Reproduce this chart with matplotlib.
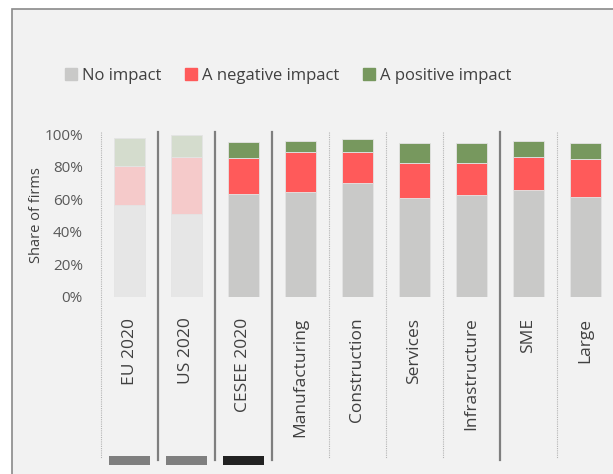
import numpy as np
import matplotlib
matplotlib.use("Agg")
import matplotlib.pyplot as plt
from matplotlib.patches import Rectangle, Patch

plt.rcParams['font.family'] = ['Open Sans', 'DejaVu Sans']

# Survey shares (% of firms)
categories = ["EU 2020", "US 2020", "CESEE 2020", "Manufacturing", "Construction",
              "Services", "Infrastructure", "SME", "Large"]
no_impact = [56.5, 51.0, 63.3, 64.3, 70.0, 60.5, 62.7, 65.6, 61.5]
negative = [23.8, 35.0, 22.1, 24.4, 18.7, 21.5, 19.5, 20.1, 23.1]
positive = [17.2, 13.4, 9.6, 6.8, 8.0, 12.5, 12.5, 9.8, 10.1]

# benchmarks are drawn faded
faded = [True, True, False, False, False, False, False, False, False]

# group separators: (position between bars, solid?)
separators = [(-0.5, False), (0.5, True), (1.5, True), (2.5, True), (3.5, False),
              (4.5, False), (5.5, False), (6.5, True), (7.5, False)]

# markers under the first three bars
marker_colors = ["#7f7f7f", "#7f7f7f", "#222222"]

C_NO, C_NEG, C_POS = "#c9c9c8", "#ff5a5a", "#77985e"
C_NO_F, C_NEG_F, C_POS_F = "#e6e6e6", "#f5caca", "#d4dccd"

fig = plt.figure(figsize=(6.13, 4.74), dpi=100)
fig.patch.set_facecolor("white")

# framed panel background
fig.patches.append(Rectangle((11.5 / 613, -0.1), 1.2, 1 - 9.5 / 474 + 0.1,
                             transform=fig.transFigure, facecolor="#f2f2f2",
                             edgecolor="#8a8a8a", linewidth=1.2, zorder=-5))

ax = fig.add_axes([101 / 613, (474 - 296.7) / 474, 513 / 613, 162.7 / 474])
ax.set_facecolor("none")

x = np.arange(len(categories))
no_c = [C_NO_F if f else C_NO for f in faded]
neg_c = [C_NEG_F if f else C_NEG for f in faded]
pos_c = [C_POS_F if f else C_POS for f in faded]
bottom2 = np.array(no_impact) + np.array(negative)

w = 0.54
ax.bar(x, no_impact, w, color=no_c, edgecolor="#e4e4e4", linewidth=0.6)
ax.bar(x, negative, w, bottom=no_impact, color=neg_c, edgecolor="#e4e4e4", linewidth=0.6)
ax.bar(x, positive, w, bottom=bottom2, color=pos_c, edgecolor="#e4e4e4", linewidth=0.6)

ax.set_xlim(-0.5, 8.5)
ax.set_ylim(0, 100)

tr = ax.get_xaxis_transform()
for pos, solid in separators:
    if solid:
        ax.plot([pos, pos], [1.012, -1.004], transform=tr, clip_on=False,
                color="#7f7f7f", linewidth=1.6, zorder=1)
    else:
        ax.plot([pos, pos], [1.012, -0.99], transform=tr, clip_on=False,
                color="#b4b4b4", linewidth=0.8, linestyle=(0, (1, 1)), zorder=1)

for i, c in enumerate(marker_colors):
    ax.add_patch(Rectangle((i - 0.36, -1.0326), 0.72, 0.0556, transform=tr,
                           facecolor=c, edgecolor="none", clip_on=False))

ax.set_yticks(np.arange(0, 101, 20))
ax.set_yticklabels([f"{v}%" for v in range(0, 101, 20)])
ax.set_xticks(x)
ax.set_xticklabels(categories, rotation=90)
ax.tick_params(axis="y", length=0, pad=13, labelsize=11, labelcolor="#595959")
ax.tick_params(axis="x", length=0, pad=15, labelsize=12.5, labelcolor="#404040")
for s in ax.spines.values():
    s.set_visible(False)
ax.set_ylabel("Share of firms", fontsize=10.5, color="#404040", labelpad=0)

handles = [Patch(color=C_NO), Patch(color=C_NEG), Patch(color=C_POS)]
fig.legend(handles, ["No impact", "A negative impact", "A positive impact"],
           loc="center", bbox_to_anchor=(0.47, 1 - 76 / 474), ncol=3, frameon=False,
           fontsize=12, handlelength=0.75, handleheight=0.75, handletextpad=0.3,
           columnspacing=1.4, labelcolor="#404040")

fig.savefig("out.png", dpi=100)
